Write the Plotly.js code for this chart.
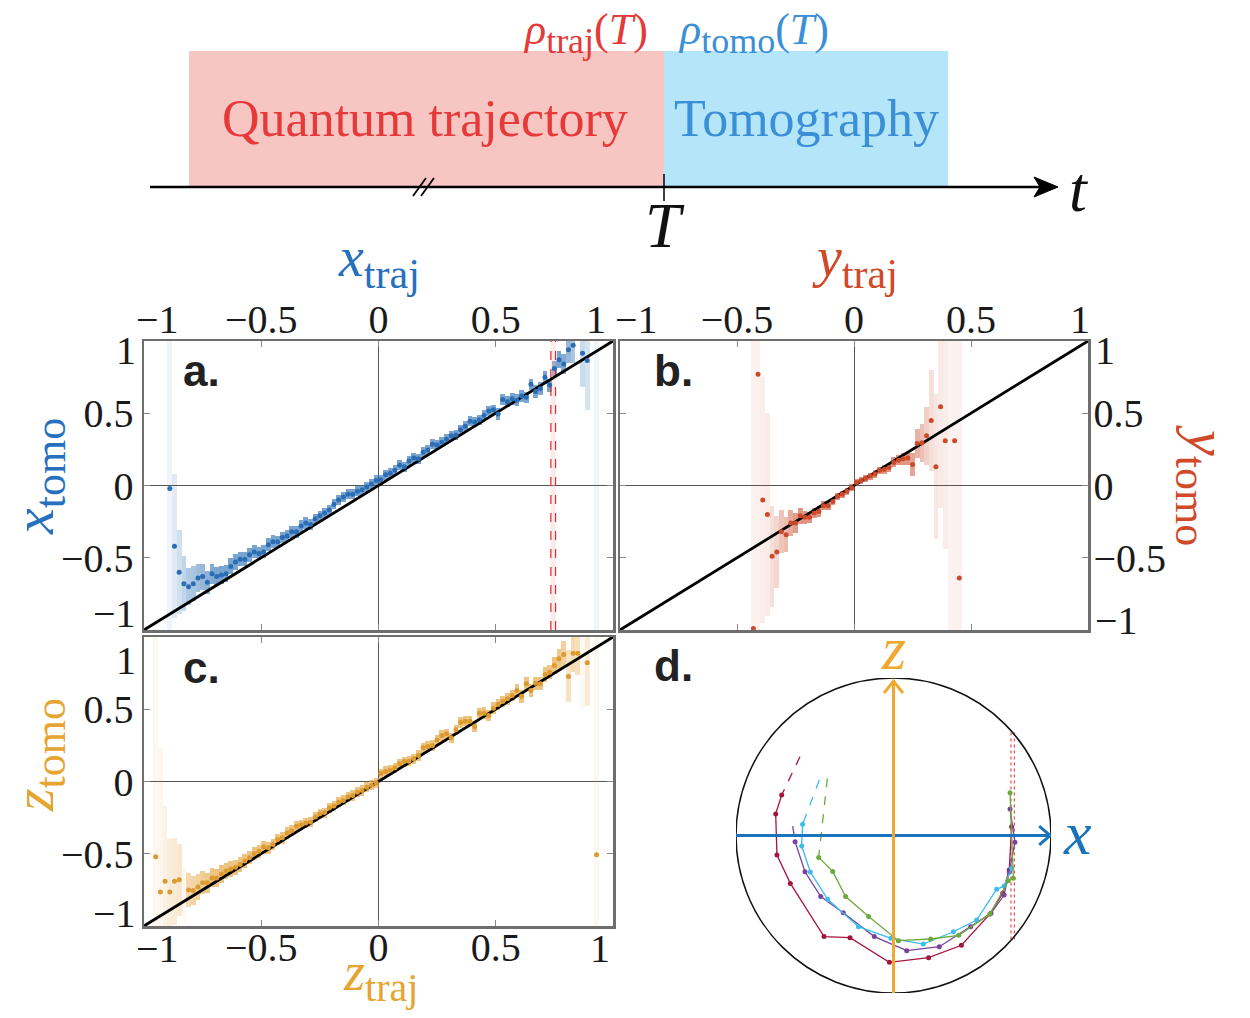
<!DOCTYPE html>
<html><head><meta charset="utf-8">
<script src="https://cdn.plot.ly/plotly-3.0.1.min.js"></script>
<style>html,body{margin:0;padding:0;background:#fff}</style>
</head><body><div id="chart" style="width:1250px;height:1018px"></div>
<script>
// ---------- Panel a: x_tomo vs x_traj (bin centers, mean, half-height of box) ----------
const xTrajA = [-0.89,-0.87,-0.85,-0.83,-0.81,-0.79,-0.77,-0.75,-0.73,-0.71,-0.69,-0.67,-0.65,-0.63,-0.61,-0.59,-0.57,-0.55,-0.53,-0.51,-0.49,-0.47,-0.45,-0.43,-0.41,-0.39,-0.37,-0.35,-0.33,-0.31,-0.29,-0.27,-0.25,-0.23,-0.21,-0.19,-0.17,-0.15,-0.13,-0.11,-0.09,-0.07,-0.05,-0.03,-0.01,0.01,0.03,0.05,0.07,0.09,0.11,0.13,0.15,0.17,0.19,0.21,0.23,0.25,0.27,0.29,0.31,0.33,0.35,0.37,0.39,0.41,0.43,0.45,0.47,0.49,0.51,0.53,0.55,0.57,0.59,0.61,0.63,0.65,0.67,0.69,0.71,0.73,0.75,0.77,0.79,0.81,0.83,0.87,0.89];
const xTomoA = [-0.02,-0.42,-0.60,-0.68,-0.70,-0.68,-0.64,-0.63,-0.67,-0.61,-0.63,-0.62,-0.61,-0.56,-0.53,-0.51,-0.51,-0.48,-0.46,-0.47,-0.46,-0.41,-0.39,-0.39,-0.36,-0.35,-0.32,-0.32,-0.28,-0.26,-0.27,-0.23,-0.21,-0.19,-0.17,-0.13,-0.10,-0.08,-0.06,-0.06,-0.04,-0.03,-0.01,0.01,0.035,0.04,0.075,0.085,0.105,0.14,0.13,0.17,0.19,0.185,0.23,0.245,0.285,0.28,0.30,0.32,0.345,0.35,0.385,0.41,0.445,0.44,0.455,0.485,0.515,0.525,0.495,0.595,0.58,0.60,0.59,0.62,0.61,0.70,0.65,0.67,0.75,0.695,0.81,0.87,0.84,0.94,0.97,0.915,0.865];
const xErrA = [2,0.5,0.29,0.19,0.13,0.12,0.10,0.09,0.08,0.07,
  0.065,0.06,0.06,0.055,0.055,0.05,0.05,0.05,0.045,0.045,
  0.045,0.045,0.045,0.04,0.04,0.04,0.04,0.04,0.04,0.04,
  0.035,0.035,0.035,0.035,0.035,0.035,0.035,0.035,0.035,0.035,0.035,0.035,0.035,0.035,0.035,
  0.035,0.035,0.035,0.035,0.035,0.035,0.035,0.035,0.035,0.035,0.035,0.035,0.035,0.035,0.035,
  0.035,0.035,0.035,0.035,0.035,0.035,0.035,0.035,0.035,0.035,
  0.04,0.04,0.04,0.04,0.04,0.04,0.04,0.04,
  0.045,0.045,0.045,0.045,
  0.05,0.06,0.07,0.09,0.12,0.23,0.34];
const bandXA = [0.93], bandLoA = [-1], bandHiA = [1];
const markLinesA = [0.735, 0.755];

// ---------- Panel b: y_tomo vs y_traj ----------
const yTrajB = [-0.43,-0.41,-0.39,-0.37,-0.35,-0.33,-0.31,-0.29,-0.27,-0.25,-0.23,-0.21,-0.19,-0.17,-0.15,-0.13,-0.11,-0.09,-0.07,-0.05,-0.03,-0.01,0.01,0.03,0.05,0.07,0.09,0.11,0.13,0.15,0.17,0.19,0.21,0.23,0.25,0.27,0.29,0.31,0.33,0.35,0.37,0.39,0.43,0.45];
const yTomoB = [-0.99,0.77,-0.10,-0.20,-0.49,-0.46,-0.32,-0.34,-0.26,-0.26,-0.21,-0.22,-0.22,-0.19,-0.18,-0.14,-0.14,-0.11,-0.075,-0.06,-0.04,-0.015,0.02,0.035,0.05,0.065,0.08,0.105,0.11,0.125,0.16,0.175,0.185,0.19,0.145,0.29,0.295,0.345,0.45,0.13,0.545,0.31,0.31,-0.64];
const yErrB = [2,2,0.85,0.7,0.35,0.25,0.15,0.12,0.09,0.07,
  0.055,0.045,0.04,0.035,0.035,0.03,0.03,0.025,0.025,0.025,
  0.025,0.025,0.025,0.025,0.025,0.025,0.025,0.025,0.03,0.03,
  0.035,0.035,0.04,0.045,0.08,0.1,0.13,0.2,0.35,0.5,
  0.7,0.75,2,2];
const bandXB = [0.41], bandLoB = [-1], bandHiB = [1];

// ---------- Panel c: z_tomo vs z_traj ----------
const zTrajC = [-0.95,-0.93,-0.91,-0.89,-0.87,-0.85,-0.81,-0.79,-0.77,-0.75,-0.73,-0.71,-0.69,-0.67,-0.65,-0.63,-0.61,-0.59,-0.57,-0.55,-0.53,-0.51,-0.49,-0.47,-0.45,-0.43,-0.41,-0.39,-0.37,-0.35,-0.33,-0.31,-0.29,-0.27,-0.25,-0.23,-0.21,-0.19,-0.17,-0.15,-0.13,-0.11,-0.09,-0.07,-0.05,-0.03,-0.01,0.01,0.03,0.05,0.07,0.09,0.11,0.13,0.15,0.17,0.19,0.21,0.23,0.25,0.27,0.29,0.31,0.33,0.35,0.37,0.39,0.41,0.43,0.45,0.47,0.49,0.51,0.53,0.55,0.57,0.59,0.61,0.63,0.65,0.67,0.69,0.71,0.73,0.75,0.77,0.79,0.81,0.83,0.85,0.89,0.93];
const zTomoC = [-0.52,-0.765,-0.69,-0.765,-0.69,-0.68,-0.75,-0.755,-0.73,-0.70,-0.70,-0.667,-0.667,-0.64,-0.62,-0.605,-0.594,-0.575,-0.55,-0.527,-0.50,-0.482,-0.454,-0.459,-0.436,-0.402,-0.39,-0.356,-0.34,-0.31,-0.30,-0.287,-0.28,-0.246,-0.223,-0.215,-0.183,-0.17,-0.143,-0.131,-0.108,-0.097,-0.074,-0.062,-0.039,-0.027,-0.01,0.055,0.07,0.08,0.095,0.122,0.138,0.14,0.157,0.18,0.233,0.242,0.249,0.288,0.318,0.33,0.302,0.358,0.408,0.417,0.417,0.38,0.473,0.473,0.457,0.507,0.533,0.553,0.572,0.595,0.63,0.59,0.676,0.63,0.68,0.676,0.74,0.756,0.803,0.849,0.879,0.727,0.888,0.888,0.821,-0.507];
const zErrC = [2,1.0,0.52,0.37,0.3,0.25,
  0.12,0.10,0.09,0.08,0.07,0.065,0.06,0.06,0.055,0.055,
  0.05,0.05,0.05,0.045,0.045,0.045,0.045,0.04,0.04,0.04,
  0.04,0.04,0.04,0.04,0.035,0.035,0.035,0.035,0.035,0.035,
  0.035,0.035,0.035,0.035,0.035,0.035,0.035,0.035,0.035,0.035,
  0.035,0.035,0.035,0.035,0.035,0.035,0.035,0.035,0.035,0.035,
  0.035,0.035,0.035,0.035,0.035,0.035,0.035,0.035,0.035,0.035,
  0.035,0.035,0.035,0.04,0.04,0.04,0.04,0.04,0.04,0.04,
  0.045,0.045,0.045,0.045,0.045,0.045,0.05,0.05,0.06,0.07,
  0.09,0.18,0.13,0.15,
  0.3,2];
const bandXC = [-0.83, 0.87], bandLoC = [-0.98, 0.5], bandHiC = [-0.6, 1.0];

// ---------- Panel d: trajectories in the x-z plane of the Bloch sphere ----------
const redX = [-0.710,-0.748,-0.740,-0.655,-0.441,-0.276,-0.026,0.223,0.431,0.613,0.693,0.735,0.750];
const redZ = [0.257,0.137,-0.124,-0.304,-0.642,-0.649,-0.805,-0.776,-0.697,-0.498,-0.367,-0.219,0.056];
const redStart = [-0.594, 0.500];
const purpleX = [-0.625,-0.562,-0.462,-0.319,-0.122,0.084,0.291,0.490,0.619,0.702,0.735,0.771,0.740];
const purpleZ = [-0.039,-0.230,-0.388,-0.490,-0.642,-0.731,-0.706,-0.579,-0.494,-0.378,-0.232,-0.043,0.168];
const purpleStart = [-0.640, 0.060];
const cyanX = [-0.577,-0.583,-0.528,-0.418,-0.223,-0.016,0.189,0.380,0.528,0.655,0.702,0.750];
const cyanZ = [0.071,-0.067,-0.232,-0.405,-0.579,-0.653,-0.689,-0.611,-0.537,-0.342,-0.321,-0.208];
const cyanStart = [-0.471, 0.352];
const greenX = [-0.475,-0.386,-0.304,-0.158,0.031,0.236,0.414,0.613,0.729,0.761,0.740];
const greenZ = [-0.139,-0.228,-0.388,-0.515,-0.668,-0.657,-0.634,-0.498,-0.287,-0.272,0.272];
const greenStart = [-0.420, 0.363];
const dottedD = [0.746, 0.767];
const dottedExtent = [-0.66, 0.66];

// inner tick values (the ±1 labels sit at the frame corners and are placed as text below)
const tickVals = [-0.5, 0, 0.5];

// ---------- helpers ----------
const W = 1250, H = 1018;
const PX = v => v / W, PY = v => 1 - v / H;
const SERIF = 'Liberation Serif, Times New Roman, serif';
const SANS = 'Liberation Sans, Arial, sans-serif';
const C = {
  blue: '#2a6db4', blueTxt: '#2670bd',
  red: '#cc4a2a', redTxt: '#d04a2a',
  orange: '#dd9a2e', orangeTxt: '#e6a532'
};
const alphaOf = e => Math.min(0.62, 0.09 / Math.pow(Math.min(e, 1.2), 0.7));

function panelTraces(xs, ys, es, bx, blo, bhi, rgb, ptColor, xa, ya) {
  const out = [];
  out.push({type:'bar', x: bx, base: blo, y: bhi.map((h,i)=>h-blo[i]), width: 0.02,
    xaxis: xa, yaxis: ya, marker:{color:'rgba('+rgb+',0.07)', line:{width:0}}, hoverinfo:'skip'});
  out.push({type:'bar', x: xs, base: ys.map((v,i)=>v-es[i]), y: es.map(e=>2*e), width: 0.02,
    xaxis: xa, yaxis: ya, marker:{color: es.map(e=>'rgba('+rgb+','+alphaOf(e).toFixed(3)+')'), line:{width:0}}, hoverinfo:'skip'});
  out.push({type:'scatter', mode:'lines', x:[-1,1], y:[-1,1], xaxis: xa, yaxis: ya,
    line:{color:'#000', width:2.8}, hoverinfo:'skip'});
  out.push({type:'scatter', mode:'markers', x: xs, y: ys, xaxis: xa, yaxis: ya,
    marker:{color: ptColor, size:5}, cliponaxis:true, hoverinfo:'skip'});
  return out;
}

const traces = [];
traces.push({type:'scatter', mode:'lines', x:[markLinesA[0], markLinesA[1], markLinesA[1], markLinesA[0]], y:[-1,-1,1,1],
  fill:'toself', fillcolor:'rgba(255,185,185,0.3)', line:{width:0}, xaxis:'x', yaxis:'y', hoverinfo:'skip'});
markLinesA.forEach(v => traces.push({type:'scatter', mode:'lines', x:[v,v], y:[-1,1], xaxis:'x', yaxis:'y',
  line:{color:'#e3262b', width:1.2, dash:'dash'}, hoverinfo:'skip'}));
traces.push(...panelTraces(xTrajA, xTomoA, xErrA, bandXA, bandLoA, bandHiA, '42,110,180', C.blue, 'x', 'y'));
traces.push(...panelTraces(yTrajB, yTomoB, yErrB, bandXB, bandLoB, bandHiB, '205,85,55', C.red, 'x2', 'y2'));
traces.push(...panelTraces(zTrajC, zTomoC, zErrC, bandXC, bandLoC, bandHiC, '228,160,55', C.orange, 'x3', 'y3'));

dottedD.forEach(v => traces.push({type:'scatter', mode:'lines', x:[v,v], y:dottedExtent, xaxis:'x4', yaxis:'y4',
  line:{color:'#e3262b', width:1, dash:'dot'}, hoverinfo:'skip'}));
const trajs = [
  [redX, redZ, redStart, '#a3173f'],
  [purpleX, purpleZ, purpleStart, '#7b3f9e'],
  [cyanX, cyanZ, cyanStart, '#3bbdee'],
  [greenX, greenZ, greenStart, '#6aab3b']
];
trajs.forEach(([xs, zs, st, col]) => {
  traces.push({type:'scatter', mode:'lines', x:[st[0], xs[0]], y:[st[1], zs[0]], xaxis:'x4', yaxis:'y4',
    line:{color:col, width:1.3, dash:'dash'}, hoverinfo:'skip'});
  traces.push({type:'scatter', mode:'lines+markers', x: xs, y: zs, xaxis:'x4', yaxis:'y4',
    line:{color:col, width:1.3}, marker:{color:col, size:5}, hoverinfo:'skip'});
});

function ax(domain, side, anchor, extra) {
  return Object.assign({
    domain, side, anchor, range:[-1,1], tickvals: tickVals, ticks:'inside', ticklen:6, tickwidth:1,
    tickcolor:'#888', showline:true, linecolor:'#6e6e6e', linewidth:2.5, mirror:'ticks',
    zeroline:true, zerolinecolor:'#555', zerolinewidth:1, showgrid:false, fixedrange:true,
    tickfont:{family:SERIF, size:40, color:'#1a1a1a'}
  }, extra || {});
}
const hidden = (domain, anchor) => ({domain, anchor, range:[-1,1], visible:false, fixedrange:true});

const xa = [PX(144), PX(613)], xb = [PX(620), PX(1088)];
const yab = [PY(630), PY(341)], yc = [PY(926), PY(637)];

const shapes = [
  {type:'rect', xref:'paper', yref:'paper', x0:PX(189), x1:PX(664), y0:PY(187), y1:PY(51), fillcolor:'#f7c5c2', line:{width:0}},
  {type:'rect', xref:'paper', yref:'paper', x0:PX(664), x1:PX(948), y0:PY(187), y1:PY(51), fillcolor:'#b5e5f8', line:{width:0}},
  {type:'line', xref:'paper', yref:'paper', x0:PX(150), x1:PX(1045), y0:PY(187), y1:PY(187), line:{color:'#000', width:2.5}},
  {type:'path', xref:'paper', yref:'paper',
    path:`M ${PX(1058)} ${PY(187)} L ${PX(1034)} ${PY(177)} L ${PX(1040)} ${PY(187)} L ${PX(1034)} ${PY(197)} Z`,
    fillcolor:'#000', line:{color:'#000', width:1}},
  {type:'line', xref:'paper', yref:'paper', x0:PX(664), x1:PX(664), y0:PY(174), y1:PY(201), line:{color:'#000', width:1.5}},
  {type:'line', xref:'paper', yref:'paper', x0:PX(413), x1:PX(426), y0:PY(196), y1:PY(178), line:{color:'#000', width:1.8}},
  {type:'line', xref:'paper', yref:'paper', x0:PX(421), x1:PX(434), y0:PY(196), y1:PY(178), line:{color:'#000', width:1.8}},
  // panel d: unit circle and the x / z axis arrows
  {type:'circle', xref:'x4', yref:'y4', x0:-1, x1:1, y0:-1, y1:1, line:{color:'#111', width:1.5}},
  {type:'line', xref:'x4', yref:'y4', x0:-1, x1:0.99, y0:0, y1:0, line:{color:'#1a73bd', width:3}},
  {type:'path', xref:'x4', yref:'y4', path:'M 0.925 0.06 L 0.995 0 L 0.925 -0.06', line:{color:'#1a73bd', width:3}},
  {type:'line', xref:'x4', yref:'y4', x0:0, x1:0, y0:-1, y1:0.975, line:{color:'#f0a830', width:3}},
  {type:'path', xref:'x4', yref:'y4', path:'M -0.06 0.905 L 0 0.98 L 0.06 0.905', line:{color:'#f0a830', width:3}}
];

function txt(x, y, text, size, color, extra) {
  return Object.assign({xref:'paper', yref:'paper', x:PX(x), y:PY(y), text, showarrow:false,
    xanchor:'center', yanchor:'middle', font:{family:SERIF, size, color}}, extra || {});
}
const sub = (s, px) => `<sub><span style="font-size:${px}px">${s}</span></sub>`;
const tick = (x, y, s, anchor) => txt(x, y, s, 40, '#1a1a1a', {xanchor: anchor});
const bold = (x, y, s) => txt(x, y, '<b>' + s + '</b>', 44, '#222', {font:{family:SANS, size:44, color:'#222'}});

const annotations = [
  txt(425, 118, 'Quantum trajectory', 52, '#e5393a'),
  txt(806, 118, 'Tomography', 52, '#3b8fd6'),
  txt(585, 3, '<i>ρ</i>' + sub('traj', 36) + '(<i>T</i>)', 44, '#e5393a', {yanchor:'top'}),
  txt(753, 3, '<i>ρ</i>' + sub('tomo', 36) + '(<i>T</i>)', 44, '#3b8fd6', {yanchor:'top'}),
  txt(665, 226, '<i>T</i>', 64, '#111'),
  txt(1079, 190, '<i>t</i>', 64, '#111'),
  txt(379, 262, '<i>x</i>' + sub('traj', 42), 56, C.blueTxt),
  txt(855, 262, '<i>y</i>' + sub('traj', 42), 56, C.redTxt),
  txt(38, 477, '<i>x</i>' + sub('tomo', 44), 58, C.blueTxt, {textangle:-90}),
  txt(38, 755, '<i>z</i>' + sub('tomo', 44), 58, C.orangeTxt, {textangle:-90}),
  txt(1203, 485, '<i>y</i>' + sub('tomo', 44), 58, C.redTxt, {textangle:90}),
  txt(380, 976, '<i>z</i>' + sub('traj', 40), 54, C.orangeTxt),
  // ±1 labels at the frame corners, nudged inward as in the figure
  tick(138, 350, '1', 'right'), tick(138, 613, '−1', 'right'),
  tick(138, 660, '1', 'right'), tick(138, 913, '−1', 'right'),
  tick(1093, 350, '1', 'left'), tick(1093, 620, '−1', 'left'),
  tick(157, 320, '−1', 'center'), tick(608, 320, '1', 'right'),
  tick(613, 320, '−1', 'left'), tick(1080, 320, '1', 'center'),
  tick(157, 948, '−1', 'center'), tick(600, 948, '1', 'center'),
  bold(201, 370, 'a.'), bold(673, 370, 'b.'), bold(201, 667, 'c.'), bold(673, 665, 'd.'),
  txt(1077, 833, '<i>x</i>', 62, '#1a73bd'),
  txt(894, 648, '<i>z</i>', 62, '#f0a830')
];

const layout = {
  width: W, height: H, margin:{l:0, r:0, t:0, b:0, pad:0},
  paper_bgcolor:'#fff', plot_bgcolor:'rgba(0,0,0,0)', showlegend:false,
  barmode:'overlay', bargap:0,
  font:{family:SERIF, size:40, color:'#1a1a1a'},
  xaxis: ax(xa, 'top', 'y', {ticklabelstandoff:-10}),
  yaxis: ax(yab, 'left', 'x'),
  xaxis2: ax(xb, 'top', 'y2', {ticklabelstandoff:-10}),
  yaxis2: ax(yab, 'right', 'x2', {ticklabelstandoff:-5}),
  xaxis3: ax(xa, 'bottom', 'y3', {ticklabelstandoff:-16}),
  yaxis3: ax(yc, 'left', 'x3'),
  xaxis4: hidden([PX(736), PX(1051)], 'y4'),
  yaxis4: hidden([PY(993), PY(678)], 'x4'),
  shapes, annotations
};

Plotly.newPlot('chart', traces, layout, {staticPlot:true, displayModeBar:false});
</script></body></html>
